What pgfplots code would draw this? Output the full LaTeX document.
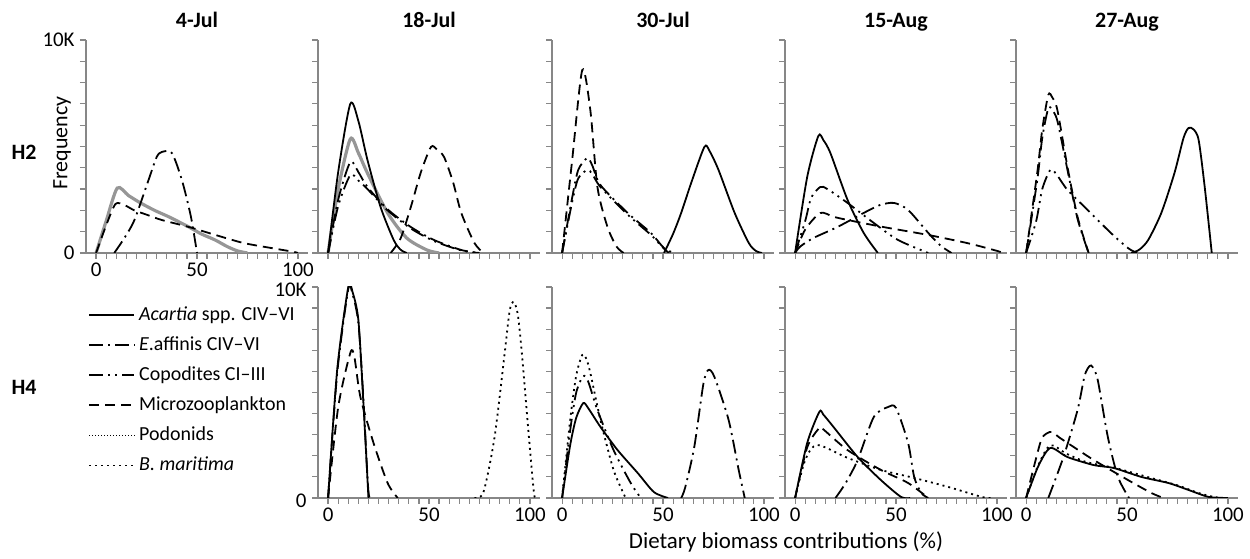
\documentclass[border=0pt]{standalone}
\usepackage{fontspec}
\setmainfont{Carlito}
\usepackage{pgfplots}
\pgfplotsset{compat=1.18}
\definecolor{axgray}{RGB}{135,135,135}
\definecolor{curvegray}{RGB}{150,150,150}

\pgfplotsset{
  panel/.style={scale only axis, width=111bp,
    xmin=-5, xmax=105, ymin=0, ymax=10000,
    axis lines=left, axis line style={-, draw=axgray, line width=0.8pt},
    tick style={draw=axgray, line width=0.6pt},
    tick align=outside, major tick length=3bp, minor tick length=3bp,
    xtick={0,50,100}, minor x tick num=9,
    ytick={0,10000}, minor y tick num=9,
    scaled y ticks=false,
    xticklabels={}, yticklabels={},
    no markers,
    /pgf/number format/assume math mode=true,
    tick label style={font=\fontsize{10.5}{12}\selectfont, inner sep=0.5bp},
    xticklabel style={yshift=-1.5bp},
    yticklabel style={xshift=-2bp},
    title style={font=\fontsize{11}{13}\selectfont\bfseries, anchor=base, at={(0.5,1)}, yshift=0.5bp},
    every axis plot/.append style={black, line width=0.9pt, smooth, tension=0.45}},
  top/.style={panel, height=106.5bp},
  bot/.style={panel, height=105.5bp},
  xlab/.style={xticklabels={0,50,100}},
  ylab/.style={yticklabels={0,10K}},
  gr/.style={curvegray, line width=1.6pt},
  so/.style={black, solid},
  dd/.style={black, dash pattern=on 7pt off 2.5pt on 1pt off 2.5pt},
  ddd/.style={black, dash pattern=on 7pt off 2.5pt on 1pt off 2.5pt on 1pt off 2.5pt},
  da/.style={black, dash pattern=on 5pt off 3pt},
  fdot/.style={black, dash pattern=on 0.6pt off 0.9pt},
  dot/.style={black, dash pattern=on 1pt off 2pt},
}

\begin{document}
\begin{tikzpicture}
\path (0,0) rectangle (625bp,277bp);

% ---------- H2 row ----------
\begin{axis}[top, xlab, ylab, at={(43bp,150.5bp)}, anchor=south west, title={4-Jul}]
\addplot[gr] coordinates {(0,0) (5,1500) (10.5,3050) (16,2700) (22,2350) (29,2000) (36,1700) (46,1220) (52,900) (59,610) (65,300) (70,100) (75,0)};
\addplot[da] coordinates {(0,0) (5,1300) (9.6,2300) (14,2250) (19,2000) (25,1800) (32.5,1550) (46,1220) (59,850) (73,470) (87,230) (97.5,60) (100,0)};
\addplot[dd] coordinates {(9,0) (14,700) (19,1550) (26,3430) (30,4500) (32.5,4740) (37.5,4700) (42.5,3430) (47,1700) (50,0)};
\end{axis}

\begin{axis}[top, at={(159bp,150.5bp)}, anchor=south west, title={18-Jul}]
\addplot[gr] coordinates {(0,0) (5,3000) (11,5350) (15,4700) (19.5,3750) (29.5,1880) (39,700) (49,140) (55,0)};
\addplot[so] coordinates {(0,0) (5,3800) (11,7000) (15,6200) (19.5,4370) (26,2160) (32.5,610) (36,150) (39,0)};
\addplot[dd] coordinates {(0,0) (5,2500) (11,4270) (15,3800) (19.5,3100) (29.5,2050) (41,1220) (52.5,610) (66,140) (75,0)};
\addplot[ddd] coordinates {(0,0) (5,2200) (11,3660) (15,3400) (19.5,3000) (29.5,2000) (41,1150) (52.5,560) (66,120) (75,0)};
\addplot[da] coordinates {(31,0) (36,700) (41,2160) (46,3800) (51,4980) (54,4850) (57.5,4500) (62,3300) (66,1880) (72.5,470) (77,0)};
\end{axis}

\begin{axis}[top, at={(276bp,150.5bp)}, anchor=south west, title={30-Jul}]
\addplot[da] coordinates {(0,0) (5,4370) (10,8590) (14,6700) (17.5,3100) (22.5,1220) (27,300) (30.5,0)};
\addplot[dd] coordinates {(0,0) (5,2600) (8,3900) (12.5,4460) (15,4100) (19,3190) (32.5,1880) (44,940) (50.5,230) (55.5,0)};
\addplot[ddd] coordinates {(0,0) (5,2400) (8,3500) (12.5,3900) (15,3700) (19,3100) (32.5,1800) (44,850) (50.5,200) (53,0)};
\addplot[so] coordinates {(50.5,0) (55,900) (59,1880) (64,3300) (70.5,4980) (73,4800) (77.5,3900) (85.5,1880) (92.5,470) (96,100) (99,0)};
\end{axis}

\begin{axis}[top, at={(392.5bp,150.5bp)}, anchor=south west, title={15-Aug}]
\addplot[so] coordinates {(0,0) (6,3570) (11.5,5490) (14,5300) (17.5,4690) (26,2490) (34,940) (41,0)};
\addplot[ddd] coordinates {(0,0) (5,1500) (8,2600) (12.5,3100) (16,3000) (26,2350) (39,1410) (51,610) (66,0)};
\addplot[da] coordinates {(0,0) (5,1100) (12.5,1880) (19,1700) (26,1550) (42.5,1240) (66,845) (86,450) (100,100) (103,0)};
\addplot[dd] coordinates {(0,0) (2.5,300) (9,700) (21,1220) (34,1880) (42,2250) (49,2350) (56,2020) (66,940) (72,350) (77.5,0)};
\end{axis}

\begin{axis}[top, at={(508bp,150.5bp)}, anchor=south west, title={27-Aug}]
\addplot[da] coordinates {(0,0) (5.5,3750) (8,5800) (11,7420) (13,7300) (15.5,6710) (20.5,4040) (25.5,1690) (31,0)};
\addplot[dd] coordinates {(0,0) (5.5,3400) (8,5400) (11,6800) (13,6700) (15.5,6200) (20.5,3900) (25.5,1600) (31,0)};
\addplot[ddd] coordinates {(0,0) (5,1500) (8,3000) (12,3900) (15,3700) (20.5,2960) (30.5,2020) (42,940) (50.5,230) (55,0)};
\addplot[so] coordinates {(52,0) (56,150) (60.5,610) (67,1880) (73.5,3750) (78,5400) (80.5,5870) (83,5800) (85.5,5300) (88.5,3100) (92,0)};
\end{axis}

% ---------- H4 row ----------
\begin{axis}[bot, xlab, ylab, at={(159bp,28bp)}, anchor=south west,
  yticklabel style={yshift=-1.5bp}]
\addplot[so] coordinates {(0,0) (4.5,6070) (10,10000) (12,9800) (15,8440) (17.5,4500) (20,0)};
\addplot[dd] coordinates {(0,0) (4.5,5900) (10,9900) (12,9700) (15,8300) (17.5,4700) (20,300) (22,0)};
\addplot[da] coordinates {(0,0) (5,4300) (11,6870) (13,6700) (16,4790) (22.5,2610) (29.5,710) (34.5,0)};
\addplot[dot] coordinates {(72.5,0) (77,280) (82.5,2890) (87.5,6870) (90,8900) (92,9290) (94,8700) (96,6870) (99.5,2890) (102,240) (103,0)};
\end{axis}

\begin{axis}[bot, xlab, at={(276bp,28bp)}, anchor=south west]
\addplot[dot] coordinates {(0,0) (4,3700) (7,5800) (10,6780) (12,6600) (14,5920) (19,3700) (25.5,1330) (31.5,0)};
\addplot[ddd] coordinates {(0,0) (4,3200) (7,5000) (10.5,5780) (13,5500) (17.5,4170) (25.5,2270) (34,710) (39,0)};
\addplot[so] coordinates {(0,0) (4,2500) (7,3800) (10.5,4500) (13,4250) (19,3370) (27.5,2270) (37.5,1180) (45.5,280) (52.5,0)};
\addplot[dd] coordinates {(59,0) (61,500) (65.5,2420) (70,5400) (72.5,6070) (75.5,5730) (82.5,3700) (87.5,1330) (90.5,0)};
\end{axis}

\begin{axis}[bot, xlab, at={(392.5bp,28bp)}, anchor=south west]
\addplot[so] coordinates {(0,0) (6,2610) (12,4080) (14,3950) (19,3370) (31,1940) (42.5,850) (52.5,50) (57,0)};
\addplot[da] coordinates {(0,0) (6,2400) (12,3320) (14,3250) (26,2270) (42.5,1330) (56,710) (66,0)};
\addplot[dot] coordinates {(0,0) (5,1800) (11,2510) (26,1900) (42.5,1330) (59,950) (76,520) (92.5,50) (97,0)};
\addplot[dd] coordinates {(20,0) (25,700) (31,1800) (39,3840) (46,4310) (50,4270) (56,2610) (59,1000) (62.5,240) (66,0)};
\end{axis}

\begin{axis}[bot, xlab, at={(508bp,28bp)}, anchor=south west]
\addplot[dd] coordinates {(11,0) (18.5,1940) (25.5,4170) (29,5800) (31.5,6260) (33,6200) (35.5,5590) (40.5,2890) (45.5,1000) (51,0)};
\addplot[da] coordinates {(0,0) (7,2610) (10,3050) (13,3130) (16,2900) (20.5,2610) (33.5,1800) (50.5,850) (62,240) (68,0)};
\addplot[so] coordinates {(0,0) (6,1500) (12,2370) (20.5,1940) (33.5,1560) (43.5,1420) (57,1000) (70.5,710) (80.5,380) (90.5,50) (100,0)};
\addplot[dot] coordinates {(0,0) (6,1550) (12,2500) (20,2100) (30,1700) (45,1400) (60,1000) (75,600) (85,250) (93,50) (98,0)};
\end{axis}

% ---------- legend ----------
\begin{axis}[hide axis, scale only axis, width=20bp, height=20bp,
  at={(44bp,126bp)}, anchor=north west, xmin=0, xmax=1, ymin=0, ymax=1,
  legend style={at={(0,1)}, anchor=north west, draw=none, fill=none,
    inner sep=0pt, row sep=2.7bp, font=\fontsize{10}{12}\selectfont,
    /tikz/every even column/.append style={column sep=0pt}},
  legend cell align=left,
  legend image code/.code={\draw[#1, line width=0.9pt] (0bp,0bp) -- (22.5bp,0bp);}]
\addlegendimage{so}
\addlegendentry{\textit{Acartia} spp. CIV--VI}
\addlegendimage{dd}
\addlegendentry{\textit{E}.affinis CIV--VI}
\addlegendimage{ddd}
\addlegendentry{Copodites CI--III}
\addlegendimage{da}
\addlegendentry{Microzooplankton}
\addlegendimage{fdot}
\addlegendentry{Podonids}
\addlegendimage{dot}
\addlegendentry{\textit{B. maritima}}
\end{axis}

% ---------- labels ----------
\node[font=\fontsize{11}{13}\selectfont\bfseries] at (12bp,201bp) {H2};
\node[font=\fontsize{11}{13}\selectfont\bfseries] at (12bp,83.5bp) {H4};
\node[rotate=90, font=\fontsize{11}{13}\selectfont] at (31bp,205.5bp) {Frequency};
\node[font=\fontsize{11.5}{13}\selectfont] at (393bp,6bp) {Dietary biomass contributions (\%)};
\end{tikzpicture}
\end{document}
